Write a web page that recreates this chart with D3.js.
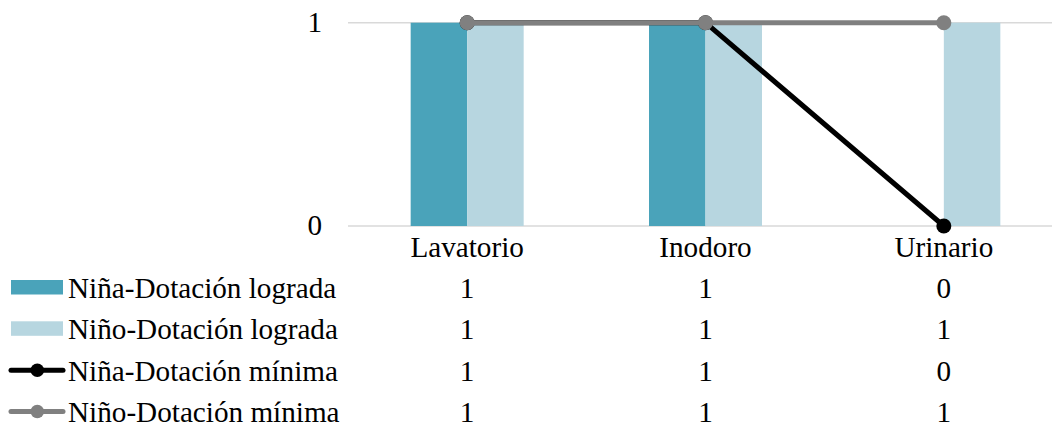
<!DOCTYPE html>
<html><head><meta charset="utf-8">
<script src="https://cdn.jsdelivr.net/npm/d3@7"></script>
<style>body{margin:0;background:#fff}svg{display:block}</style>
</head><body><svg id="c" width="1052" height="427"></svg>
<script>
const categories = ["Lavatorio", "Inodoro", "Urinario"];
const ninaLograda = [1, 1, 0];
const ninoLograda = [1, 1, 1];
const ninaMinima = [1, 1, 0];
const ninoMinima = [1, 1, 1];
const yTicks = [0, 1];
const seriesNames = ["Niña-Dotación lograda", "Niño-Dotación lograda", "Niña-Dotación mínima", "Niño-Dotación mínima"];

const svg = d3.select("#c");
const font = "'Liberation Serif','Times New Roman',serif";
const fs = 29.2;
const x = d3.scaleBand().domain(categories).range([348, 1063]).paddingInner(0).paddingOuter(0);
const y = d3.scaleLinear().domain([0, 1]).range([226, 22.7]);
const barW = 56.5;
const cols = {nina: "#4AA3BA", nino: "#B7D6E0", ninaM: "#000000", ninoM: "#808080"};

// gridlines
svg.append("g").selectAll("line").data(yTicks).join("line")
  .attr("x1", 348).attr("x2", 1063)
  .attr("y1", d => y(d)).attr("y2", d => y(d))
  .attr("stroke", "#D9D9D9").attr("stroke-width", 1.5);

// y labels
svg.append("g").selectAll("text").data(yTicks).join("text")
  .attr("x", 322).attr("y", d => y(d) + 9.2)
  .attr("text-anchor", "end").attr("font-family", font).attr("font-size", fs)
  .text(d => d);

// bars
const cx = c => x(c) + x.bandwidth() / 2;
svg.append("g").selectAll("rect").data(categories).join("rect")
  .attr("x", c => cx(c) - barW).attr("width", barW)
  .attr("y", (c, i) => y(ninaLograda[i])).attr("height", (c, i) => y(0) - y(ninaLograda[i]))
  .attr("fill", cols.nina);
svg.append("g").selectAll("rect").data(categories).join("rect")
  .attr("x", c => cx(c)).attr("width", barW)
  .attr("y", (c, i) => y(ninoLograda[i])).attr("height", (c, i) => y(0) - y(ninoLograda[i]))
  .attr("fill", cols.nino);

// lines
function drawLine(vals, color) {
  const pts = categories.map((c, i) => [cx(c), y(vals[i])]);
  svg.append("path").attr("d", d3.line()(pts)).attr("fill", "none")
    .attr("stroke", color).attr("stroke-width", 5).attr("stroke-linejoin", "round");
  svg.append("g").selectAll("circle").data(pts).join("circle")
    .attr("cx", d => d[0]).attr("cy", d => d[1]).attr("r", 7.5).attr("fill", color);
}
drawLine(ninaMinima, cols.ninaM);
drawLine(ninoMinima, cols.ninoM);

// category labels
svg.append("g").selectAll("text").data(categories).join("text")
  .attr("x", c => cx(c)).attr("y", 257).attr("text-anchor", "middle")
  .attr("font-family", font).attr("font-size", fs).text(c => c);

// data table
const rowsY = [298, 339.3, 380.7, 422];
const tableVals = [ninaLograda, ninoLograda, ninaMinima, ninoMinima];
const types = ["bar", "bar", "line", "line"];
const colorList = [cols.nina, cols.nino, cols.ninaM, cols.ninoM];
seriesNames.forEach((name, r) => {
  const by = rowsY[r];
  if (types[r] === "bar") {
    svg.append("rect").attr("x", 11).attr("y", by - 18).attr("width", 52).attr("height", 14.5).attr("fill", colorList[r]);
  } else {
    svg.append("line").attr("x1", 11).attr("x2", 63).attr("y1", by - 10.5).attr("y2", by - 10.5)
      .attr("stroke", colorList[r]).attr("stroke-width", 5).attr("stroke-linecap", "round");
    svg.append("circle").attr("cx", 37.3).attr("cy", by - 10.5).attr("r", 6.8).attr("fill", colorList[r]);
  }
  svg.append("text").attr("x", 68).attr("y", by).attr("font-family", font).attr("font-size", fs).text(name);
  svg.append("g").selectAll("text").data(categories).join("text")
    .attr("x", c => cx(c)).attr("y", by).attr("text-anchor", "middle")
    .attr("font-family", font).attr("font-size", fs).text((c, i) => tableVals[r][i]);
});
</script></body></html>
